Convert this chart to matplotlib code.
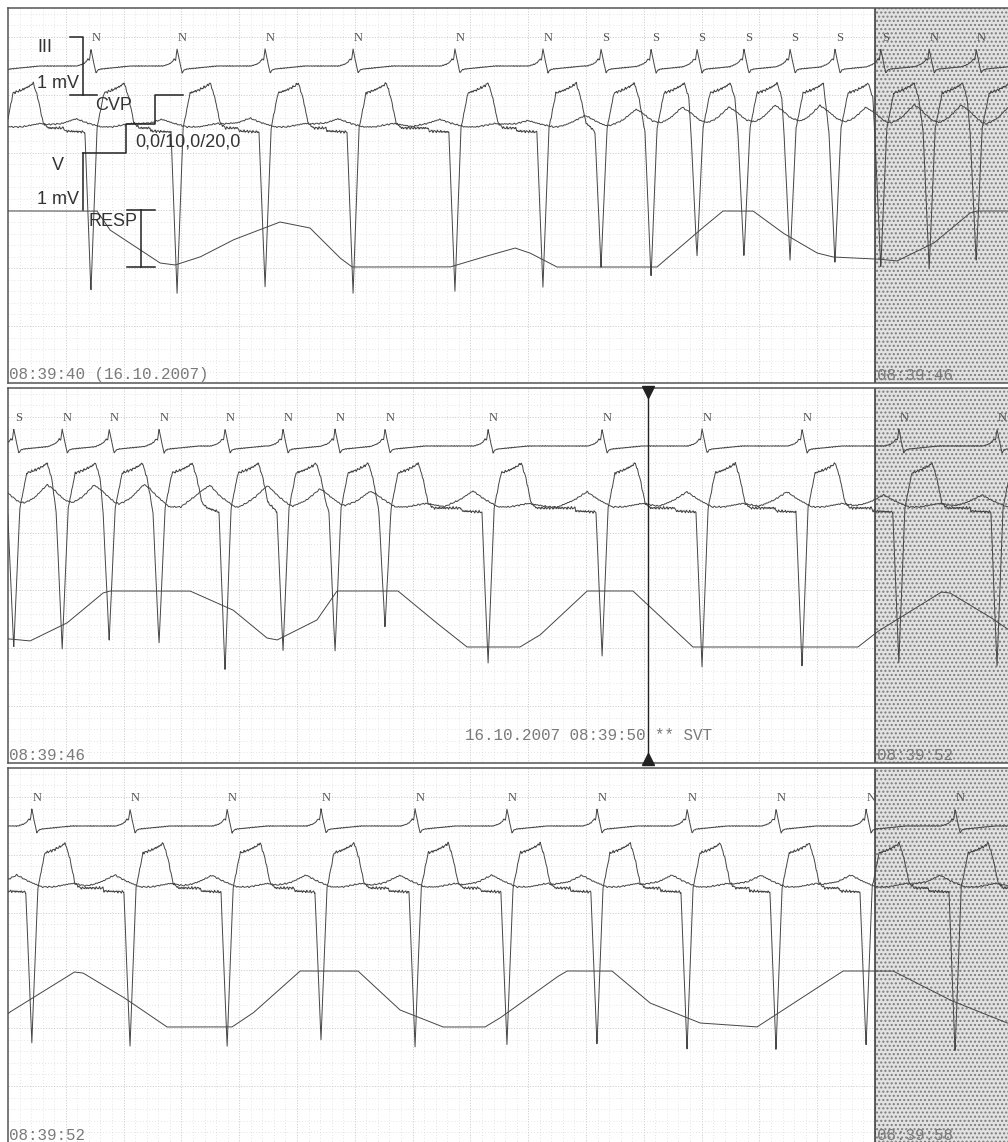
import numpy as np
import matplotlib.pyplot as plt

# beat times (s after 08:39:40) and their annotation letters ('-' = no letter)
beat_time = [-0.055, 0.574, 1.170, 1.779, 2.388, 3.093, 3.702, 4.104, 4.450, 4.768,
             5.093, 5.412, 5.723, 6.040, 6.375, 6.700, 7.045, 7.502, 7.903, 8.263,
             8.609, 9.322, 10.111, 10.803, 11.495, 12.165, 12.844, 13.516, 14.166,
             14.817, 15.453, 16.076, 16.699, 17.315, 17.938, 18.554]
beat_label = list("-NNNNNNSSSSSSSNNNNNNNNNNNNNNNNNNNNNN")

# depth of the negative V complex (mV)
v_depth_mv = [2.84, 2.83, 2.84, 2.74, 2.84, 2.83, 2.74, 2.40, 2.59, 2.24,
              2.24, 2.28, 2.33, 2.41, 2.41, 2.29, 2.36, 2.83, 2.48, 2.50,
              2.07, 2.71, 2.57, 2.74, 2.76, 2.66, 2.74, 2.76, 2.62, 2.74,
              2.71, 2.71, 2.79, 2.79, 2.74, 2.83]

# CVP a-wave height (mmHg)
cvp_a_mmhg = [2.8, 2.8, 2.6, 3.0, 2.8, 2.6, 2.2, 2.8, 5.2, 6.2,
              6.2, 6.9, 6.9, 6.2, 6.9, 6.9, 6.9, 6.9, 6.2, 5.2,
              4.5, 5.5, 5.2, 5.2, 5.2, 4.1, 4.1, 4.0, 4.1, 4.0,
              4.1, 4.0, 4.1, 4.0, 4.1, 4.0]
cvp_base_mmhg = 9.0

# respiration curve (0 = lower clip, 56 = upper clip)
resp_time = [0.0, 0.616, 0.706, 1.052, 1.156, 1.329, 1.557, 1.882, 2.090, 2.298,
             2.381, 3.059, 3.266, 3.509, 3.612, 3.799, 4.491, 4.789, 4.948, 5.156,
             5.363, 5.599, 5.709, 6.014, 6.152, 6.408, 6.657, 6.706, 7.260, 7.557,
             7.792, 7.862, 8.138, 8.277, 8.699, 8.941, 9.176, 9.543, 9.682, 10.007,
             10.325, 10.740, 11.882, 12.014, 12.460, 12.519, 12.796, 13.100, 13.550, 13.696,
             14.021, 14.422, 14.713, 15.010, 15.301, 15.405, 15.799, 15.869, 16.180, 16.443,
             16.789, 17.183, 17.779, 18.125, 18.519, 18.913]
resp_level = [56, 56, 37, 4, 2, 10, 27, 45, 39, 9,
              0, 0, 9, 19, 14, 0, 0, 37, 56, 56,
              34, 14, 10, 8, 6, 24, 54, 56, 56, 37,
              9, 7, 27, 56, 56, 27, 0, 0, 12, 56,
              56, 0, 0, 15, 55, 54, 30, 0, 0, 14,
              56, 56, 17, 0, 0, 9, 50, 56, 56, 24,
              4, 0, 56, 56, 27, 4]

strip_start = ["08:39:40 (16.10.2007)", "08:39:46", "08:39:52"]
strip_next = ["08:39:46", "08:39:52", "08:39:58"]
event_time = 10.429
event_text = "16.10.2007 08:39:50 ** SVT"

# waveform shapes (offset from beat in s, level in strip px, + = down)
III_DT = [-0.097, -0.055, -0.035, -0.021, -0.010, 0.0, 0.021, 0.035, 0.048, 0.069, 0.138, 0.277]
III_DY = [0, -2, -4, -7, -6, -17, -2, 7, 4, 3, 2, 0]
V_DT = [-0.042, 0.0, 0.042, 0.090, 0.150, 0.205, 0.230, 0.262, 0.298, 0.335]
V_DY = [4, 0, 0, -35, -38, -42, -45, -30, -5, 0]
CVP_A_DT = [-0.305, -0.195, -0.104, -0.028, 0.069]
CVP_A_K = [0, 0.45, 1.0, 0.5, 0]
CVP_V_DT = [0.15, 0.28, 0.42]
CVP_V_K = [0, 1.2, 0]

PX_PER_S = 144.5
PANEL_TOPS = [8, 388, 768]
PANEL_H = 375
III_BASE = 58
V_BASE = 120
V_GAIN = 58
CVP_ZERO = 145
CVP_GAIN = 2.9
RESP_BOTTOM = 259
TRACE = "#454545"


def jitter(t, amp):
    return amp * (np.sin(2 * np.pi * 47 * t) * np.sin(2 * np.pi * 3.1 * t + 0.5)
                  + 0.6 * np.sin(2 * np.pi * 83 * t + 1.0))


t = np.arange(-0.3, 19.2, 0.0015)

lead3 = np.full_like(t, III_BASE, dtype=float)
for tb in beat_time:
    lead3 += np.interp(t - tb, III_DT, III_DY, left=0, right=0)
lead3 += jitter(t * 1.3, 0.3)

kt, ky = [], []
n = len(beat_time)
for i, tb in enumerate(beat_time):
    prev_t = beat_time[i - 1] if i > 0 else -1e9
    next_t = beat_time[i + 1] if i < n - 1 else 1e9
    if tb - prev_t > 0.52:
        kt += [tb - 0.187, tb - 0.180]
        ky += [0.0, 3.0]
    for dx, dy in zip(V_DT, V_DY):
        if dx > 0 and tb + dx > next_t - 0.05:
            break
        kt.append(tb + dx)
        ky.append(v_depth_mv[i] * V_GAIN if dx == 0 else dy)
kt, ky = np.array(kt), np.array(ky)
order = np.argsort(kt)
v_lead = V_BASE + np.interp(t, kt[order], ky[order]) + jitter(t, 0.9)

cvp = np.full_like(t, cvp_base_mmhg, dtype=float)
for tb, a in zip(beat_time, cvp_a_mmhg):
    cvp += a * np.interp(t - tb, CVP_A_DT, CVP_A_K, left=0, right=0)
    cvp += np.interp(t - tb, CVP_V_DT, CVP_V_K, left=0, right=0)
cvp_y = CVP_ZERO - CVP_GAIN * cvp + jitter(t * 0.7, 0.5)

resp_y = RESP_BOTTOM - np.interp(t, resp_time, resp_level)
resp_y[t < 0] = np.nan

W, H = 1008, 1142
fig = plt.figure(figsize=(W / 100, H / 100), dpi=100)
mono = ["Liberation Mono", "DejaVu Sans Mono"]
sans = ["Liberation Sans", "DejaVu Sans"]
serif = ["Liberation Serif", "DejaVu Serif"]

for k, top in enumerate(PANEL_TOPS):
    ax = fig.add_axes([8 / W, 1 - (top + PANEL_H) / H, 1000 / W, PANEL_H / H])
    t0 = 6.0 * k
    t1 = t0 + 1000 / PX_PER_S
    ax.set_xlim(t0, t1)
    ax.set_ylim(PANEL_H, 0)
    ax.set_xticks([])
    ax.set_yticks([])
    for side in ["left", "top", "bottom"]:
        ax.spines[side].set_color("#555555")
        ax.spines[side].set_linewidth(1.1)
    ax.spines["right"].set_visible(False)

    # paper grid
    gx = t0 + np.arange(1, 88) * 0.08
    major_x = (np.arange(1, 88) % 5) == 0
    ax.vlines(gx[~major_x], 0, PANEL_H, colors="#d6d6d6", lw=0.55,
              linestyles=(0, (1, 3)), zorder=0.3)
    ax.vlines(gx[major_x], 0, PANEL_H, colors="#c2c2c2", lw=0.55,
              linestyles=(0, (1.5, 2)), zorder=0.3)
    gy = 29.0 + np.arange(-2, 31) * 11.56
    major_y = (np.arange(-2, 31) % 5) == 0
    keep = (gy > 0) & (gy < PANEL_H)
    ax.hlines(gy[keep & ~major_y], t0, t1, colors="#d6d6d6", lw=0.55,
              linestyles=(0, (1, 3)), zorder=0.3)
    ax.hlines(gy[keep & major_y], t0, t1, colors="#c2c2c2", lw=0.55,
              linestyles=(0, (1.5, 2)), zorder=0.3)

    # overlap zone at the right
    ax.axvspan(t0 + 6.0, t1 + 1, facecolor="#e2e2e2", edgecolor="#7c7c7c",
               hatch="....", lw=0, zorder=0.5)
    ax.axvline(t0 + 6.0, color="#333333", lw=1.1, zorder=2)

    for y in (lead3, v_lead, cvp_y, resp_y):
        ax.plot(t, y, color=TRACE, lw=0.7, zorder=3)

    for tb, lab in zip(beat_time, beat_label):
        tx = tb + 0.035
        if lab != "-" and t0 < tx < t1:
            ax.text(tx, 30, lab, ha="center", va="center", fontsize=9,
                    family=serif, color="#555555", zorder=4)

    ax.text(t0 + 0.007, 367, strip_start[k], ha="left", va="center",
            fontsize=11.4, family=mono, color="#7a7a7a", zorder=4)
    ax.text(t0 + 6.014, 367, strip_next[k], ha="left", va="center",
            fontsize=11.4, family=mono, color="#7a7a7a", zorder=4)

    if k == 0:
        cal = dict(color="#222222", lw=1.1, zorder=4)
        ax.plot([0.429, 0.517, 0.517], [29, 29, 87], **cal)
        ax.plot([0.429, 0.614], [87, 87], **cal)
        ax.plot([0.517, 0.817, 0.817, 1.017, 1.017, 1.211],
                [145, 145, 116, 116, 87, 87], **cal)
        ax.plot([0.517, 0.517], [145, 202], **cal)
        ax.plot([0.821, 1.017], [202, 202], **cal)
        ax.plot([0.918, 0.918], [202, 259], **cal)
        ax.plot([0.821, 1.017], [259, 259], **cal)
        txt = dict(fontsize=13, family=sans, color="#333333", va="center", zorder=5)
        ax.text(0.201, 40, "III", ha="left", **txt)
        ax.text(0.201, 76, "1 mV", ha="left", **txt)
        ax.text(0.602, 98, "CVP", ha="left", **txt)
        ax.text(0.879, 134, "0,0/10,0/20,0", ha="left", **txt)
        ax.text(0.304, 157, "V", ha="left", **txt)
        ax.text(0.201, 192, "1 mV", ha="left", **txt)
        ax.text(0.554, 214, "RESP", ha="left", **txt)

    if k == 1:
        ax.axvline(event_time, color="#222222", lw=1.0, zorder=4)
        ax.plot([event_time], [4], marker="v", color="#222222", ms=8,
                clip_on=False, zorder=5)
        ax.plot([event_time], [PANEL_H - 4], marker="^", color="#222222", ms=8,
                clip_on=False, zorder=5)
        ax.text(9.163, 348, event_text, ha="left", va="center", fontsize=11.4,
                family=mono, color="#7a7a7a", zorder=4)

fig.savefig("out.png", dpi=100)
